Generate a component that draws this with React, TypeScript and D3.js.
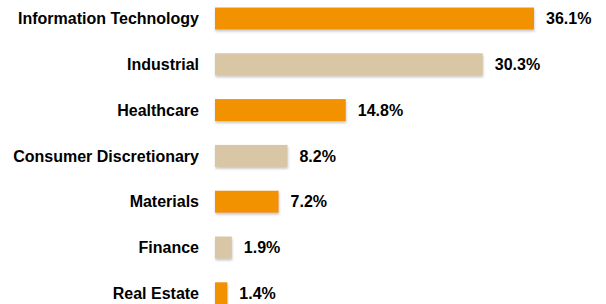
import { useEffect, useRef } from "react";
import * as d3 from "d3";

const categories = [
  "Information Technology",
  "Industrial",
  "Healthcare",
  "Consumer Discretionary",
  "Materials",
  "Finance",
  "Real Estate",
];
const values = [36.1, 30.3, 14.8, 8.2, 7.2, 1.9, 1.4];
const barColors = ["#F39200", "#D9C6A5", "#F39200", "#D9C6A5", "#F39200", "#D9C6A5", "#F39200"];

const W = 606;
const H = 304;

export default function App() {
  const svgRef = useRef<SVGSVGElement | null>(null);

  useEffect(() => {
    document.body.style.margin = "0";
    const svg = d3.select(svgRef.current);
    svg.selectAll("*").remove();

    const rows = categories.map((c, i) => ({ name: c, value: values[i], color: barColors[i] }));

    const x = d3.scaleLinear().domain([0, d3.max(values) as number]).range([215, 534]);
    const y = d3
      .scaleBand()
      .domain(categories)
      .range([-4.4, 316.2])
      .paddingInner(0.52)
      .paddingOuter(0.26);

    // soft shadow under bars
    const defs = svg.append("defs");
    defs
      .append("filter")
      .attr("id", "shadow")
      .attr("x", "-10%")
      .attr("y", "-20%")
      .attr("width", "120%")
      .attr("height", "160%")
      .append("feDropShadow")
      .attr("dx", 0.5)
      .attr("dy", 2)
      .attr("stdDeviation", 1)
      .attr("flood-color", "#888")
      .attr("flood-opacity", 0.45);

    const font = "'Liberation Sans', Arial, sans-serif";

    svg
      .append("g")
      .selectAll("rect")
      .data(rows)
      .join("rect")
      .attr("x", x(0))
      .attr("y", d => y(d.name) as number)
      .attr("width", d => x(d.value) - x(0))
      .attr("height", y.bandwidth())
      .attr("fill", d => d.color)
      .attr("filter", "url(#shadow)");

    // category labels
    svg
      .append("g")
      .selectAll("text")
      .data(rows)
      .join("text")
      .attr("x", 199)
      .attr("y", d => (y(d.name) as number) + y.bandwidth() / 2)
      .attr("dy", "0.36em")
      .attr("text-anchor", "end")
      .attr("font-family", font)
      .attr("font-weight", "bold")
      .attr("font-size", 16)
      .attr("fill", "#000")
      .text(d => d.name);

    // value labels
    svg
      .append("g")
      .selectAll("text")
      .data(rows)
      .join("text")
      .attr("x", d => x(d.value) + 12)
      .attr("y", d => (y(d.name) as number) + y.bandwidth() / 2)
      .attr("dy", "0.36em")
      .attr("font-family", font)
      .attr("font-weight", "bold")
      .attr("font-size", 16)
      .attr("fill", "#000")
      .text(d => d.value.toFixed(1) + "%");
  }, []);

  return (
    <svg
      ref={svgRef}
      width={W}
      height={H}
      style={{ display: "block", background: "#fff" }}
    />
  );
}
